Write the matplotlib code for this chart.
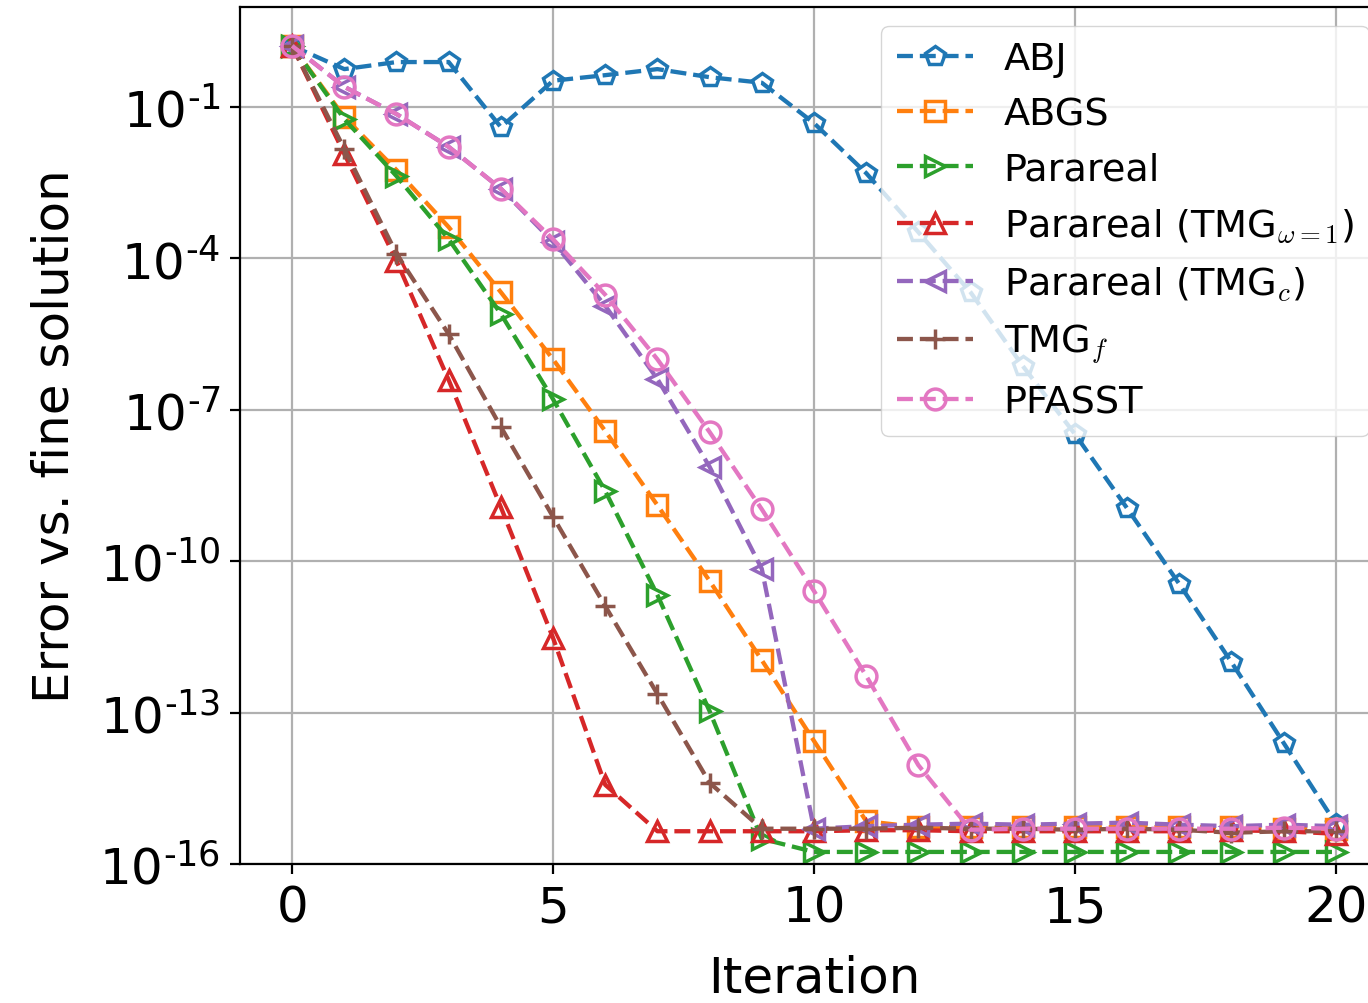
import numpy as np
import matplotlib
matplotlib.use("Agg")
import matplotlib.pyplot as plt
from matplotlib.ticker import FuncFormatter, NullLocator

plt.rcParams['font.family'] = ['DejaVu Sans']
plt.rcParams['mathtext.fontset'] = 'cm'

# iterations
iters = np.arange(21)

# log10 of the error
abj = [0.21, -0.25, -0.11, -0.11, -1.40, -0.48, -0.37, -0.25, -0.41, -0.52, -1.32,
       -2.31, -3.48, -4.67, -6.13, -7.48, -8.95, -10.45, -12.0, -13.6, -15.2]
abgs = [0.21, -1.2, -2.25, -3.38, -4.67, -6.0, -7.42, -8.89, -10.39, -11.96, -13.56,
        -15.15, -15.27, -15.27, -15.27, -15.27, -15.27, -15.27, -15.27, -15.3, -15.3]
parareal = [0.21, -1.24, -2.37, -3.62, -5.1, -6.79, -8.61, -10.67, -12.97, -15.5, -15.76,
            -15.76, -15.76, -15.76, -15.76, -15.76, -15.76, -15.76, -15.76, -15.76, -15.76]
tmg_w1 = [0.21, -1.93, -4.05, -6.41, -8.93, -11.52, -14.43, -15.35, -15.35, -15.35, -15.35,
          -15.33, -15.33, -15.35, -15.35, -15.35, -15.35, -15.35, -15.33, -15.35, -15.4]
tmg_c = [0.21, -0.6, -1.14, -1.79, -2.62, -3.67, -4.94, -6.39, -8.13, -10.15, -15.3,
         -15.25, -15.22, -15.2, -15.22, -15.2, -15.18, -15.22, -15.25, -15.22, -15.25]
tmg_f = [0.21, -1.83, -3.91, -5.5, -7.34, -9.12, -10.89, -12.63, -14.39, -15.3, -15.3,
         -15.3, -15.28, -15.3, -15.3, -15.32, -15.3, -15.32, -15.38, -15.35, -15.35]
pfasst = [0.21, -0.6, -1.14, -1.79, -2.62, -3.62, -4.72, -6.0, -7.44, -8.97, -10.59,
          -12.27, -14.04, -15.32, -15.3, -15.3, -15.3, -15.3, -15.3, -15.28, -15.3]

labels = ['ABJ', 'ABGS', 'Parareal', r'Parareal (TMG$_{\omega=1}$)',
          r'Parareal (TMG$_c$)', r'TMG$_f$', 'PFASST']
markers = ['p', 's', '>', '^', '<', '+', 'o']
series = [abj, abgs, parareal, tmg_w1, tmg_c, tmg_f, pfasst]

yticks = [1e-16, 1e-13, 1e-10, 1e-7, 1e-4, 1e-1]


def fmt_pow(v, pos):
    # short hyphen in the exponent like the original
    e = int(round(np.log10(v)))
    return r'$\mathdefault{10^{' + ('\u2010' if e < 0 else '') + str(abs(e)) + '}}$'


fig = plt.figure(figsize=(13.68, 10.04), dpi=100)
# axes runs past the right edge, the original picture is cropped there
ax = fig.add_axes([0.1754, 0.1384, 0.8392, 0.8536])

for vals, m, lab in zip(series, markers, labels):
    ax.semilogy(iters, 10.0 ** np.array(vals), '--', marker=m, label=lab,
                lw=3.1, ms=15, mew=2.5, mfc='none')

ax.set_xlim(-1, 21)
ax.set_ylim(1e-16, 10 ** 0.98)
ax.set_xticks([0, 5, 10, 15, 20])
ax.set_yticks(yticks)
ax.yaxis.set_major_formatter(FuncFormatter(fmt_pow))
ax.yaxis.set_minor_locator(NullLocator())
ax.tick_params(labelsize=36, length=7, width=1.6, pad=7)
for s in ax.spines.values():
    s.set_linewidth(1.6)
ax.grid(True, lw=1.6)
ax.set_xlabel('Iteration', fontsize=36, labelpad=16)
ax.set_ylabel('Error vs. fine solution', fontsize=36, labelpad=15)
ax.legend(loc='upper right', fontsize=27.5)

fig.savefig('out.png', dpi=100)
